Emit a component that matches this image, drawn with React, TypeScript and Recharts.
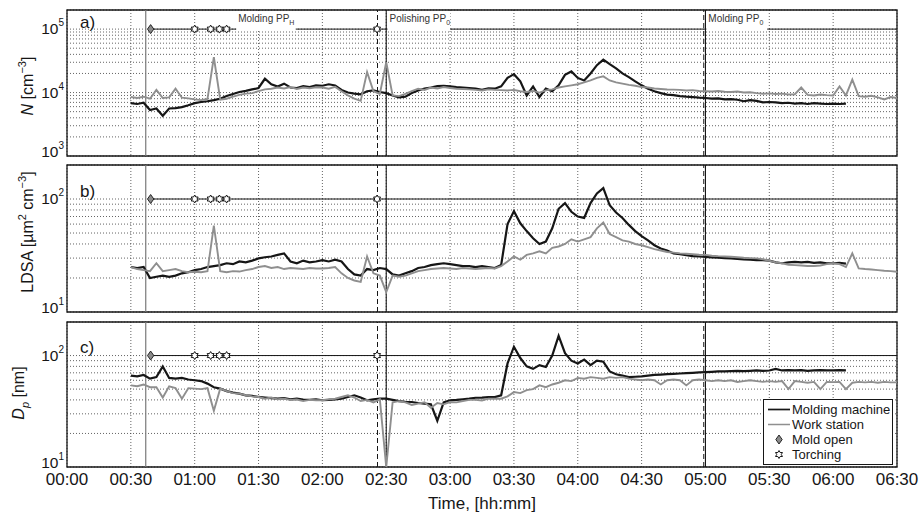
import React from 'react';
import { LineChart, Line, XAxis, YAxis, CartesianGrid, ReferenceLine, ReferenceArea } from 'recharts';

const FONT = '"Liberation Sans", Arial, Helvetica, sans-serif';
const INK = '#161616';
const GREY = '#8f8f8f';

const W = 919;
const H = 517;
const PLOT_LEFT = 67;
const PLOT_RIGHT = 897;
const T_MAX = 390;

// time axis, minutes after 00:00
const timeTicks = [0, 30, 60, 90, 120, 150, 180, 210, 240, 270, 300, 330, 360, 390];
const timeLabels = ['00:00', '00:30', '01:00', '01:30', '02:00', '02:30', '03:00', '03:30', '04:00', '04:30', '05:00', '05:30', '06:00', '06:30'];

// samples every 3 min from 00:30
const T_START = 30;
const T_STEP = 3;

// a) number concentration, x10^3 cm^-3
const nMachine = [
  6.8, 6.6, 6.9, 5.3, 5.6, 4.3, 5.6, 5.7, 5.9, 6.3,
  6.8, 7.1, 7.3, 7.6, 8.0, 8.8, 9.5, 10.2, 10.6, 11.2,
  11.8, 16.5, 13.5, 12.4, 13.8, 12.0, 11.8, 12.6, 12.2, 13.0,
  12.8, 13.5, 12.9, 11.0, 10.0, 9.6, 9.4, 10.5, 10.8, 10.2,
  9.8, 9.0, 8.4, 8.6, 9.8, 10.8, 11.6, 12.0, 12.6, 12.8,
  12.5, 12.2, 12.0, 11.8, 11.5, 11.0, 11.6, 11.5, 12.5, 17.0,
  19.5, 15.0, 9.0, 12.5, 8.5, 11.5, 10.5, 13.0, 19.0, 21.5,
  17.0, 15.5, 20.0, 27.0, 33.0, 28.0, 24.0, 20.0, 17.5, 15.0,
  13.0, 11.5, 10.5, 9.8, 9.3, 9.1, 8.8, 8.6, 8.5, 8.3,
  8.2, 8.0, 8.1, 7.8, 7.9, 7.7, 7.3, 7.6, 7.4, 7.0,
  7.1, 7.0, 6.8, 6.9, 6.7, 6.8, 6.6, 6.8, 6.7, 6.6,
  6.7, 6.6, 6.7,
];
const nStation = [
  8.5, 8.2, 8.6, 8.0, 11.0, 8.2, 8.4, 11.5, 8.3, 8.1,
  7.8, 7.6, 7.9, 36.0, 7.7, 8.0, 8.6, 9.2, 9.6, 9.8,
  10.5, 11.2, 11.5, 12.0, 11.6, 12.2, 11.4, 12.0, 11.7, 12.1,
  12.0, 11.5, 12.3, 10.5, 9.0, 8.0, 7.4, 21.0, 10.5, 9.5,
  30.0, 9.0, 8.8, 9.5, 10.5, 11.5, 11.0, 12.0, 11.6, 12.2,
  11.8, 11.5, 11.4, 11.2, 11.0, 10.8, 11.2, 11.0, 10.9, 10.8,
  11.0, 10.5, 10.2, 10.6, 10.0, 10.8, 11.2, 12.0, 12.5, 13.0,
  13.5, 14.5, 15.5, 17.0, 18.0, 15.5, 14.5, 13.8, 13.2, 12.8,
  12.2, 12.0, 11.6, 11.4, 11.2, 11.1, 11.0, 10.8, 10.9, 10.6,
  10.5, 10.4, 10.6, 10.3, 10.2, 10.4, 10.0, 10.1, 9.8, 9.6,
  9.7, 9.5, 9.6, 9.3, 9.4, 12.0, 9.2, 9.0, 9.3, 9.1,
  9.0, 12.5, 9.0, 16.0, 8.8, 8.6, 8.9, 8.4, 7.8, 8.5,
  8.2,
];

// b) LDSA, um^2 cm^-3
const ldsaMachine = [
  25, 24.5, 25, 20, 20.5, 21, 20.5, 21, 22, 22.5,
  23.5, 24, 25, 25.5, 26, 27, 26.5, 28, 27.5, 28.5,
  29.8, 30.5, 31, 32, 33, 28, 27, 28.5, 27.5, 28,
  28.8, 28, 29, 28, 24, 21.5, 21, 24, 23.5, 24.5,
  24, 21.5, 21, 22, 23, 24.5, 25, 26, 26.5, 27,
  26.5, 26, 25.5, 25.5, 25, 25.5, 25, 24.5, 26, 60,
  78, 61, 52, 45, 40, 42, 55, 82, 92, 77,
  70, 68, 92, 112, 125, 88, 76, 68, 59, 52,
  47, 43, 39, 36.5, 35, 33, 32.5, 31.8, 31.2, 31,
  30.8, 30.5, 30.2, 30, 29.8, 29.5, 29.2, 29, 28.8, 28.8,
  28.5, 27.5, 27, 27.5, 27.8, 27.5, 27.8, 27.2, 27.5, 27,
  27, 27.2, 26.8,
];
const ldsaStation = [
  25, 24, 23.5, 23, 27, 23, 23.5, 24, 23, 22.5,
  22.7, 22.5, 23, 58, 23, 22.5, 23, 22.8, 23.5, 24,
  25, 25.5, 24.5, 25, 24, 24.5, 24.3, 24, 24.5, 24.3,
  24.3, 24.5, 25, 22, 20, 19, 18.5, 31, 22, 21,
  15, 21, 20.5, 21, 22, 23, 23.5, 24, 24.3, 24.5,
  24.3, 24, 24.5, 24.2, 24, 24.3, 24.5, 24.3, 25.5, 28,
  31, 29, 32, 33, 34.5, 33, 37, 38, 40, 44,
  42, 44, 46, 55, 62, 49, 46, 43, 42, 40,
  39, 37.5, 36, 35, 34, 33.5, 33, 32.8, 32.5, 32.2,
  32, 31.5, 31.2, 31, 30.8, 30.5, 30.2, 30, 29.8, 29.3,
  28.4, 27.5, 27, 26.2, 26, 25.8, 25.5, 25.5, 25.8, 26.5,
  27, 26.5, 25, 33, 24.3, 24, 23.8, 23.5, 23.2, 23,
  22.7,
];

// c) mean particle diameter, nm
const dpMachine = [
  66, 65, 67, 62, 64, 80, 63, 62, 63, 61,
  60, 59, 56, 52, 50.5, 48, 46.5, 45.5, 44, 43.5,
  42.5, 42, 41.5, 41, 41.5, 40.5, 41, 40.3, 40, 40.5,
  39.7, 40, 40.5, 41, 42.5, 44, 42, 39.7, 40.5, 41,
  41, 40, 39, 38.5, 38.3, 37.5, 37, 36.5, 26, 38,
  39.7, 40, 40.5, 41, 41.8, 42, 42.4, 42.4, 44, 85,
  120, 95, 80, 76, 82, 79, 100, 150, 105, 90,
  85, 92, 82, 90, 88, 72, 68, 66, 64, 64.5,
  65, 66, 67, 67.5, 68, 68.5, 69, 69.5, 70, 70.5,
  71, 71.5, 72, 72, 72.5, 73, 72.5, 73, 73.5, 73,
  73.4, 76, 73.5, 74, 73.5, 74, 73, 73.5, 74, 73.5,
  73.5, 74, 73.5,
];
const dpStation = [
  54, 53, 55, 52, 52, 42, 53, 51, 41, 51,
  50.5, 50, 51, 32, 50.5, 48, 46, 45.5, 44, 43,
  42.5, 41, 42, 40.5, 41, 40, 40.3, 39, 40, 39.7,
  39.7, 40.5, 41, 42.5, 44, 42, 39, 40, 38, 40.5,
  10, 38, 39, 38, 36, 37, 38, 34, 37.5, 36.5,
  38.3, 38, 39, 40, 40, 39.5, 41, 41, 41, 43,
  47, 46, 49, 50, 54, 52, 55, 57, 60, 59,
  63, 62, 64, 63, 62, 64, 63, 64, 62, 61,
  60, 61, 60, 55, 60, 61, 60, 54, 60, 61,
  60, 59, 60, 59, 60, 58, 59, 60, 59, 58,
  59, 58, 59, 50, 59, 58, 57, 58, 50, 58,
  57.7, 58, 50, 57, 58, 57.5, 58, 57, 58, 57.5,
  57.5,
];

// events (minutes)
const moldOpenAt = [39.3];
const torchingAt = [60, 67.5, 71.6, 75, 145.7];
const startLine = 37;
const phaseDashed = [145.9, 299.2];
const phaseSolid = [150, 300];

const nTicks = [1e3, 2e3, 3e3, 4e3, 5e3, 6e3, 7e3, 8e3, 9e3, 1e4, 2e4, 3e4, 4e4, 5e4, 6e4, 7e4, 8e4, 9e4, 1e5, 2e5];
const smallTicks = [10, 20, 30, 40, 50, 60, 70, 80, 90, 100, 200];

const toRows = (vals: number[], k = 1) => vals.map((v, i) => ({ t: T_START + i * T_STEP, v: v * k }));

const eventRows = (level: number) => [
  ...moldOpenAt.map((t) => ({ t, v: level, kind: 'mold' })),
  ...torchingAt.map((t) => ({ t, v: level, kind: 'torch' })),
  { t: T_MAX, v: level, kind: 'none' },
];

const xOf = (t: number) => PLOT_LEFT + (t / T_MAX) * (PLOT_RIGHT - PLOT_LEFT);

function starPath(cx: number, cy: number, r: number) {
  const pts: string[] = [];
  for (let k = 0; k < 12; k++) {
    const a = (Math.PI / 6) * k - Math.PI / 2;
    const rr = k % 2 === 0 ? r : r / Math.sqrt(3);
    pts.push(`${(cx + rr * Math.cos(a)).toFixed(2)},${(cy + rr * Math.sin(a)).toFixed(2)}`);
  }
  return 'M' + pts.join('L') + 'Z';
}

const diamondPath = (cx: number, cy: number) =>
  `M${cx},${cy - 4.5}L${cx + 3.2},${cy}L${cx},${cy + 4.5}L${cx - 3.2},${cy}Z`;

const EventDot = (props: any) => {
  const { cx, cy, payload, index } = props;
  if (cx == null || cy == null) return <g key={index} />;
  if (payload.kind === 'mold')
    return <path key={index} d={diamondPath(cx, cy)} fill="#8a8a8a" stroke={INK} strokeWidth={0.9} />;
  if (payload.kind === 'torch')
    return <path key={index} d={starPath(cx, cy, 4)} fill="#fff" stroke={INK} strokeWidth={1} />;
  return <g key={index} />;
};

const makeLogTick = (minV: number) => (props: any) => {
  const { x, y, payload } = props;
  const lg = Math.log10(payload.value);
  const e = Math.round(lg);
  if (Math.abs(lg - e) > 1e-6) return <g />;
  const lift = payload.value === minV ? -4 : 0;
  return (
    <text x={x} y={y + 5 + lift} textAnchor="end" fontFamily={FONT} fontSize={15.5} fill={INK}>
      10<tspan dy={-8} fontSize={10}>{e}</tspan>
    </text>
  );
};

type PanelProps = {
  top: number;
  height: number;
  mTop: number;
  mBottom: number;
  domain: [number, number];
  yTicks: number[];
  level: number;
  machine: { t: number; v: number }[];
  station: { t: number; v: number }[];
  showTime?: boolean;
};

function Panel(p: PanelProps) {
  return (
    <div style={{ position: 'absolute', left: 0, top: p.top }}>
      <LineChart
        width={W}
        height={p.height}
        margin={{ top: p.mTop, right: W - PLOT_RIGHT, bottom: p.mBottom, left: PLOT_LEFT - 60 }}
      >
        <CartesianGrid stroke="#3c3c3c" strokeDasharray="1 2" strokeWidth={0.8} />
        <XAxis
          type="number"
          dataKey="t"
          domain={[0, T_MAX]}
          ticks={timeTicks}
          interval={0}
          hide={!p.showTime}
          height={30}
          tickFormatter={(t: number) => timeLabels[timeTicks.indexOf(t)]}
          tick={{ fontSize: 17, fill: INK, fontFamily: FONT }}
          tickLine={false}
          axisLine={false}
          tickSize={0}
          tickMargin={6}
          allowDataOverflow
        />
        <YAxis
          type="number"
          scale="log"
          domain={p.domain}
          ticks={p.yTicks}
          interval={0}
          allowDataOverflow
          width={60}
          tick={makeLogTick(p.domain[0])}
          tickLine={false}
          axisLine={false}
          tickSize={0}
          tickMargin={3}
        />
        <ReferenceLine x={startLine} stroke="#7a7a7a" strokeWidth={1.2} />
        {phaseDashed.map((t) => (
          <ReferenceLine key={'d' + t} x={t} stroke={INK} strokeWidth={1} strokeDasharray="5 3" />
        ))}
        {phaseSolid.map((t) => (
          <ReferenceLine key={'s' + t} x={t} stroke={INK} strokeWidth={1.1} />
        ))}
        <Line data={p.machine} dataKey="v" stroke={INK} strokeWidth={2.2} dot={false} isAnimationActive={false} />
        <Line data={p.station} dataKey="v" stroke={GREY} strokeWidth={1.9} dot={false} isAnimationActive={false} />
        <Line
          data={eventRows(p.level)}
          dataKey="v"
          stroke={INK}
          strokeWidth={1}
          dot={EventDot}
          activeDot={false}
          isAnimationActive={false}
        />
        <ReferenceArea
          x1={0}
          x2={T_MAX}
          y1={p.domain[0]}
          y2={p.domain[1]}
          fill="none"
          stroke={INK}
          strokeWidth={1.3}
        />
      </LineChart>
    </div>
  );
}

const phaseNotes = [
  { t0: 79.5, t1: 107.5, main: 'Molding PP', sub: 'H' },
  { t0: 150.6, t1: 180, main: 'Polishing PP', sub: '0' },
  { t0: 300.4, t1: 329, main: 'Molding PP', sub: '0' },
];

function Overlay() {
  const lx = 768;
  const rows = [414, 429, 444, 459];
  return (
    <svg width={W} height={H} style={{ position: 'absolute', left: 0, top: 0, pointerEvents: 'none' }} fontFamily={FONT}>
      {phaseNotes.map((n) => (
        <g key={n.t0}>
          <rect x={xOf(n.t0)} y={11} width={xOf(n.t1) - xOf(n.t0)} height={20} fill="#fff" />
          <text x={xOf(n.t0) + 2} y={22} fontSize={10} fill="#333">
            {n.main}
            <tspan dy={3} fontSize={7}>{n.sub}</tspan>
          </text>
        </g>
      ))}

      <text x={80} y={28} fontSize={17} fill={INK}>a)</text>
      <text x={80} y={197} fontSize={17} fill={INK}>b)</text>
      <text x={80} y={353} fontSize={17} fill={INK}>c)</text>

      <text transform="translate(33,86) rotate(-90)" textAnchor="middle" fontSize={16} fill={INK}>
        <tspan fontStyle="italic">N</tspan> [cm<tspan dy={-7} fontSize={11}>−3</tspan>
        <tspan dy={7}>]</tspan>
      </text>
      <text transform="translate(33,232) rotate(-90)" textAnchor="middle" fontSize={16} fill={INK}>
        LDSA [µm<tspan dy={-7} fontSize={11}>2</tspan>
        <tspan dy={7}> cm</tspan>
        <tspan dy={-7} fontSize={11}>−3</tspan>
        <tspan dy={7}>]</tspan>
      </text>
      <text transform="translate(24,393) rotate(-90)" textAnchor="middle" fontSize={16} fill={INK}>
        <tspan fontStyle="italic">D</tspan>
        <tspan dy={5} fontSize={11} fontStyle="italic">p</tspan>
        <tspan dy={-5}> [nm]</tspan>
      </text>

      <text x={(PLOT_LEFT + PLOT_RIGHT) / 2} y={509} textAnchor="middle" fontSize={17} fill={INK}>
        Time, [hh:mm]
      </text>

      <rect x={763.5} y={399.5} width={129} height={65} fill="#fff" stroke={INK} strokeWidth={1} />
      <line x1={lx} x2={lx + 22} y1={rows[0] - 4.5} y2={rows[0] - 4.5} stroke={INK} strokeWidth={1.7} />
      <line x1={lx} x2={lx + 22} y1={rows[1] - 4.5} y2={rows[1] - 4.5} stroke={GREY} strokeWidth={1.5} />
      <path d={diamondPath(lx + 11, rows[2] - 4.5)} fill="#8a8a8a" stroke={INK} strokeWidth={0.9} />
      <path d={starPath(lx + 11, rows[3] - 4.5, 4)} fill="#fff" stroke={INK} strokeWidth={1} />
      {['Molding machine', 'Work station', 'Mold open', 'Torching'].map((s, i) => (
        <text key={s} x={792} y={rows[i]} fontSize={13} fill={INK}>
          {s}
        </text>
      ))}
    </svg>
  );
}

export default function App() {
  return (
    <div style={{ position: 'absolute', left: 0, top: 0, width: W, height: H, background: '#fff', overflow: 'hidden' }}>
      <Panel
        top={0}
        height={160}
        mTop={10}
        mBottom={4}
        domain={[1e3, 2e5]}
        yTicks={nTicks}
        level={1e5}
        machine={toRows(nMachine, 1000)}
        station={toRows(nStation, 1000)}
      />
      <Panel
        top={160}
        height={156}
        mTop={5}
        mBottom={4}
        domain={[10, 200]}
        yTicks={smallTicks}
        level={100}
        machine={toRows(ldsaMachine)}
        station={toRows(ldsaStation)}
      />
      <Panel
        top={316}
        height={201}
        mTop={6}
        mBottom={20}
        domain={[10, 200]}
        yTicks={smallTicks}
        level={100}
        machine={toRows(dpMachine)}
        station={toRows(dpStation)}
        showTime
      />
      <Overlay />
    </div>
  );
}
